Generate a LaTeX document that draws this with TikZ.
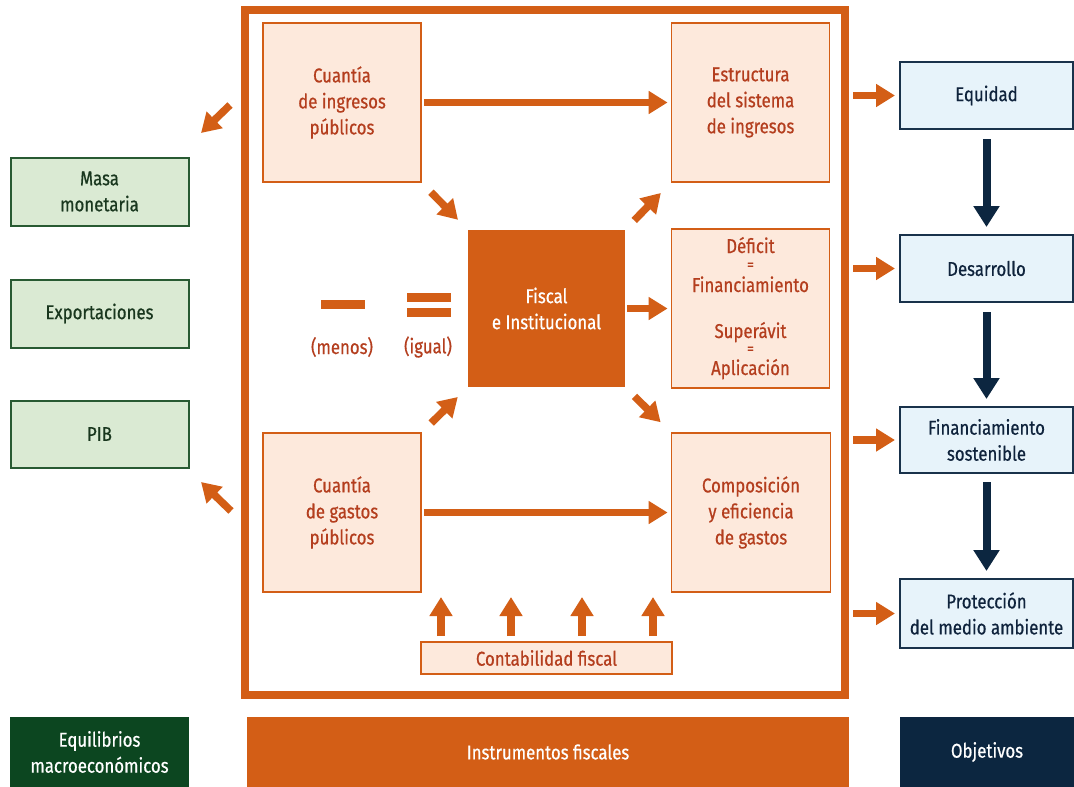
\documentclass[tikz,border=0pt]{standalone}
\usepackage{fontspec}
\setmainfont{Fira Sans}[FakeStretch=0.84,FakeBold=0.6]
\usetikzlibrary{arrows.meta,calc}
\definecolor{orng}{RGB}{211,94,22}
\definecolor{peach}{RGB}{253,233,220}
\definecolor{tred}{RGB}{180,62,30}
\definecolor{gfill}{RGB}{218,234,211}
\definecolor{gdraw}{RGB}{40,90,50}
\definecolor{gtext}{RGB}{25,55,30}
\definecolor{dgreen}{RGB}{12,70,32}
\definecolor{navy}{RGB}{12,38,64}
\definecolor{bfill}{RGB}{231,243,250}
\definecolor{bdraw}{RGB}{25,50,75}
\definecolor{btext}{RGB}{15,35,60}
\tikzset{
  lbl/.style={font=\fontsize{20}{26}\selectfont, align=center, inner sep=0pt},
  pbox/.style={lbl, draw=orng, line width=1.8pt, fill=peach, text=tred, minimum width=158pt, minimum height=159pt},
  gbox/.style={lbl, draw=gdraw, line width=2pt, fill=gfill, text=gtext, minimum width=178pt, minimum height=68pt},
  bbox/.style={lbl, draw=bdraw, line width=2pt, fill=bfill, text=btext, minimum width=173pt, minimum height=66pt},
  legbox/.style={lbl, text=white, minimum height=70pt},
  oarr/.style={draw=orng, line width=7.5pt, -{Triangle[width=22pt,length=19pt]}},
  narr/.style={draw=navy, line width=8pt, -{Triangle[width=25pt,length=21pt]}},
  ptxt/.style={lbl, text=tred},
  eqtxt/.style={ptxt, font=\fontsize{16}{16}\selectfont, text height=5pt, text depth=0pt},
  sign/.style={fill=orng, inner sep=0pt, minimum width=44pt, minimum height=9pt}
}
\begin{document}
\begin{tikzpicture}[x=1pt,y=-1pt]
\useasboundingbox (0,0) rectangle (1074,787);
\fill[white] (0,0) rectangle (1074,787);
% frame
\node[draw=orng, line width=8pt, minimum width=600pt, minimum height=685pt, inner sep=0pt] (frame) at (545,352.5) {};
% inner boxes
\node[pbox] (ingr) at (342,102.5) {Cuantía\\de ingresos\\públicos};
\node[pbox] (estr) at (750.5,102.5) {Estructura\\del sistema\\de ingresos};
\node[lbl, fill=orng, text=white, minimum width=157pt, minimum height=157pt] (fisc) at (546.5,308.5) {Fiscal\\e Institucional};
\node[pbox] (def) at (750.5,308.5) {};
\node[ptxt, anchor=base] (d1) at (750.5,253) {Déficit};
\node[eqtxt, anchor=base] (d2) at (750.5,270) {=};
\node[ptxt, anchor=base] (d3) at (750.5,292) {Financiamiento};
\node[ptxt, anchor=base] (d4) at (750.5,338) {Superávit};
\node[eqtxt, anchor=base] (d5) at (750.5,354) {=};
\node[ptxt, anchor=base] (d6) at (750.5,375) {Aplicación};
\node[pbox] (gast) at (342,512.5) {Cuantía\\de gastos\\públicos};
\node[pbox, minimum width=159pt] (comp) at (751,512.5) {Composición\\y eficiencia\\de gastos};
\node[pbox, minimum width=251pt, minimum height=32pt] (cont) at (546.5,658) {Contabilidad fiscal};
% signs
\node[sign] (minus) at (342.5,304.5) {};
\node[sign] (eq1) at (429,297) {};
\node[sign] (eq2) at (429,312.5) {};
\node[ptxt] (menos) at (342,347) {(menos)};
\node[ptxt] (igual) at (428,347) {(igual)};
% inner arrows
\draw[oarr, shorten <=2pt, shorten >=3pt] (ingr.east) -- (estr.west);
\draw[oarr, shorten <=2pt, shorten >=3pt] (fisc.east) -- (def.west);
\draw[oarr, shorten <=2pt, shorten >=3pt] (gast.east) -- (comp.west);
\draw[oarr, shorten <=13pt, shorten >=14pt] (ingr.south east) -- (fisc.north west);
\draw[oarr, shorten <=13pt, shorten >=14pt] (fisc.north east) -- (estr.south west);
\draw[oarr, shorten <=13pt, shorten >=14pt] (gast.north east) -- (fisc.south west);
\draw[oarr, shorten <=13pt, shorten >=14pt] (fisc.south east) -- (comp.north west);
\coordinate (u1) at (441,597);
\coordinate (u2) at (511,597);
\coordinate (u3) at (582,597);
\coordinate (u4) at (653,597);
\foreach \u in {u1,u2,u3,u4}
  \draw[oarr, shorten <=5pt] (cont.north -| \u) -- (\u);
% left boxes
\node[gbox] (masa) at (99.5,191.5) {Masa\\monetaria};
\node[gbox] (expo) at (99.5,313.5) {Exportaciones};
\node[gbox, minimum height=67pt] (pib) at (99.5,434) {PIB};
\coordinate (la1s) at (230,105);
\coordinate (la1e) at (201,133);
\coordinate (la2s) at (231,511);
\coordinate (la2e) at (201,482);
\draw[oarr] (la1s) -- (la1e);
\draw[oarr] (la2s) -- (la2e);
% right boxes
\node[bbox, minimum height=67pt] (eq) at (986.5,95.5) {Equidad};
\node[bbox, minimum height=67pt] (des) at (986.5,268.5) {Desarrollo};
\node[bbox] (fin) at (986.5,440) {Financiamiento\\sostenible};
\node[bbox, minimum height=69pt] (pro) at (986.5,613.5) {Protección\\del medio ambiente};
\foreach \b in {eq,des,fin,pro}
  \draw[oarr, shorten <=4pt, shorten >=4pt] (frame.east |- \b.west) -- (\b.west);
\draw[narr, shorten <=9pt, shorten >=7pt] (eq.south) -- (des.north);
\draw[narr, shorten <=9pt, shorten >=7pt] (des.south) -- (fin.north);
\draw[narr, shorten <=8pt, shorten >=7pt] (fin.south) -- (pro.north);
% legend
\node[legbox, fill=dgreen, minimum width=179pt] (leg1) at (99.5,752) {Equilibrios\\macroeconómicos};
\node[legbox, fill=orng, minimum width=602pt] (leg2) at (548,752) {Instrumentos fiscales};
\node[legbox, fill=navy, minimum width=174pt] (leg3) at (987,752) {Objetivos};
\end{tikzpicture}
\end{document}
